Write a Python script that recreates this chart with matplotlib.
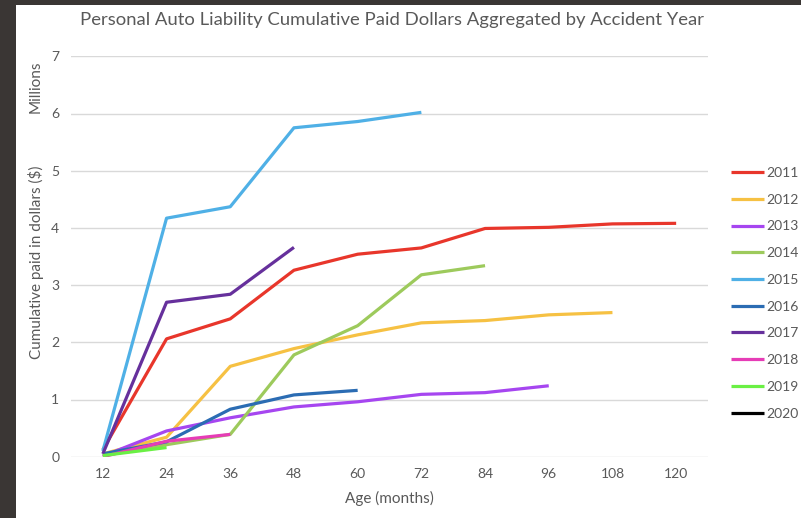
import numpy as np
import matplotlib.pyplot as plt

plt.rcParams['font.family'] = ['Lato', 'DejaVu Sans']

ages = [12, 24, 36, 48, 60, 72, 84, 96, 108, 120]
years = ['2011', '2012', '2013', '2014', '2015', '2016', '2017', '2018', '2019', '2020']

# cumulative paid, millions of dollars, by accident year
paid_2011 = [0.12, 2.06, 2.41, 3.26, 3.54, 3.65, 3.99, 4.01, 4.07, 4.08]
paid_2012 = [0.05, 0.34, 1.58, 1.89, 2.13, 2.34, 2.38, 2.48, 2.52]
paid_2013 = [0.01, 0.45, 0.68, 0.87, 0.96, 1.09, 1.12, 1.24]
paid_2014 = [0.02, 0.21, 0.39, 1.78, 2.29, 3.18, 3.34]
paid_2015 = [0.10, 4.17, 4.37, 5.75, 5.86, 6.02]
paid_2016 = [0.05, 0.26, 0.83, 1.08, 1.16]
paid_2017 = [0.05, 2.70, 2.84, 3.66]
paid_2018 = [0.00, 0.27, 0.39]
paid_2019 = [0.02, 0.16]
paid_2020 = [0.00]

series = [paid_2011, paid_2012, paid_2013, paid_2014, paid_2015,
          paid_2016, paid_2017, paid_2018, paid_2019, paid_2020]
colors = ['#e8362b', '#f6c143', '#a646f0', '#9dca5c', '#4fb0e6',
          '#2b6cb3', '#66309c', '#e63cb6', '#6af044', '#000000']

fig = plt.figure(figsize=(8.01, 5.18), dpi=100, facecolor='#3a3634')
# white panel inside the dark frame
fig.patches.append(plt.Rectangle((16 / 801, 0), 1, 1 - 5 / 518, transform=fig.transFigure,
                                 facecolor='white', edgecolor='none', zorder=-10))

ax = fig.add_axes([71 / 801, 1 - 456.7 / 518, 637 / 801, 400.4 / 518])
ax.set_facecolor('none')

x = np.arange(len(ages))
for vals, yr, c in zip(series, years, colors):
    ax.plot(x[:len(vals)], vals, color=c, lw=2.3, label=yr, solid_capstyle='butt')

ax.set_xlim(-0.5, len(ages) - 0.5)
ax.set_ylim(0, 7)
ax.set_xticks(x)
ax.set_xticklabels([str(a) for a in ages])
ax.set_yticks(range(0, 8))
ax.tick_params(length=0, labelsize=10, colors='#595959', pad=8)
ax.tick_params(axis='y', pad=8.5)
ax.grid(axis='y', color='#d9d9d9', lw=1)
ax.set_axisbelow(True)
for s in ax.spines.values():
    s.set_visible(False)

ax.set_xlabel('Age (months)', fontsize=11, color='#595959', labelpad=8)
fig.text(36 / 801, 1 - 262 / 518, 'Cumulative paid in dollars ($)', rotation=90,
         fontsize=11, color='#595959', ha='center', va='center')
fig.text(36 / 801, 1 - 87 / 518, 'Millions', rotation=90,
         fontsize=11, color='#595959', ha='center', va='center')

fig.text(392 / 801, 1 - 20 / 518,
         'Personal Auto Liability Cumulative Paid Dollars Aggregated by Accident Year',
         fontsize=13.3, color='#595959', ha='center', va='center')

leg = ax.legend(loc='upper left', bbox_to_anchor=(731 / 801, 1 - 167 / 518),
                bbox_transform=fig.transFigure, frameon=False, fontsize=10,
                handlelength=2.4, handletextpad=0.15, labelspacing=1.06,
                borderaxespad=0, borderpad=0)
for t in leg.get_texts():
    t.set_color('#595959')

fig.savefig('out.png', dpi=100, facecolor=fig.get_facecolor())
